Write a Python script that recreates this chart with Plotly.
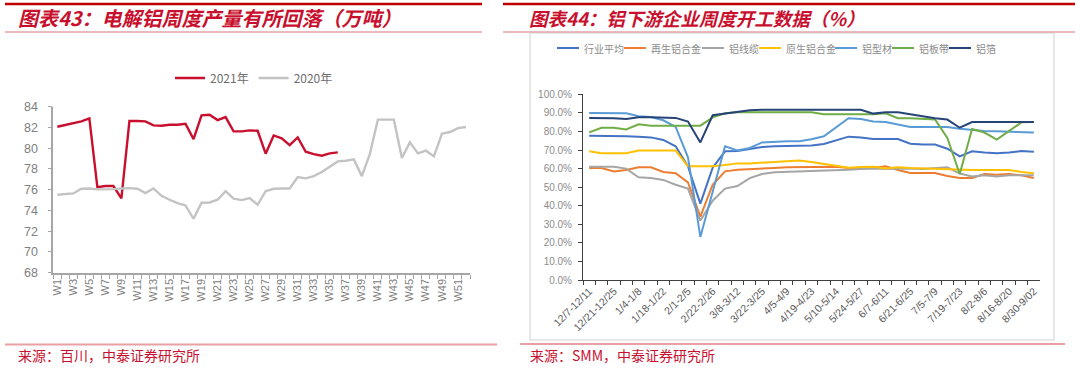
import plotly.graph_objects as go

W, H = 1080, 370

# ---------------- Left chart data ----------------
weeks = ["W%d" % i for i in range(1, 53)]
prod_2021 = [82.07, 82.23, 82.36, 82.59, 82.87, 76.25, 76.35, 76.35, 75.16, 82.62,
             82.62, 82.59, 82.20, 82.17, 82.26, 82.26, 82.36, 80.88, 83.16, 83.23,
             82.71, 83.00, 81.62, 81.62, 81.72, 81.68, 79.47, 81.23, 80.95, 80.30,
             81.04, 79.66, 79.43, 79.27, 79.50, 79.60]
prod_2020 = [75.51, 75.58, 75.64, 76.09, 76.12, 76.03, 76.03, 76.06, 76.12, 76.15,
             76.09, 75.67, 76.12, 75.41, 75.03, 74.71, 74.48, 73.20, 74.74, 74.77,
             75.03, 75.86, 75.13, 75.00, 75.19, 74.55, 75.86, 76.09, 76.12, 76.12,
             77.22, 77.09, 77.31, 77.70, 78.21, 78.73, 78.79, 78.92, 77.31, 79.43,
             82.75, 82.75, 82.75, 79.05, 80.56, 79.50, 79.76, 79.21, 81.40, 81.56,
             81.94, 82.04]
left_yticks = [68, 70, 72, 74, 76, 78, 80, 82, 84]

# ---------------- Right chart data ----------------
periods = ["12/7-12/11", "12/14-12/18", "12/21-12/25", "12/28-1/1", "1/4-1/8",
           "1/11-1/15", "1/18-1/22", "1/25-1/29", "2/1-2/5", "2/8-2/12",
           "2/22-2/26", "3/1-3/5", "3/8-3/12", "3/15-3/19", "3/22-3/25",
           "3/29-4/2", "4/5-4/9", "4/12-4/16", "4/19-4/23", "4/26-4/30",
           "5/10-5/14", "5/17-5/21", "5/24-5/27", "5/31-6/4", "6/7-6/11",
           "6/14-6/18", "6/21-6/25", "6/28-7/2", "7/5-7/9", "7/12-7/16",
           "7/19-7/23", "7/26-7/30", "8/2-8/6", "8/9-8/13", "8/16-8/20",
           "8/23-8/27", "8/30-9/02"]
industry_avg = [77.7, 77.7, 77.6, 77.4, 77.2, 76.8, 75.4, 72.0, 61.2, 41.1,
                60.5, 69.3, 69.5, 70.6, 71.6, 72.0, 72.2, 72.2, 72.4, 73.2,
                75.0, 77.2, 76.7, 75.9, 75.9, 75.9, 73.4, 72.9, 72.9, 70.7,
                66.6, 69.3, 68.6, 68.2, 68.6, 69.5, 69.1]
recycled_alloy = [60.3, 60.3, 58.5, 59.2, 60.7, 60.7, 58.2, 57.5, 52.6, 34.1,
                  51.3, 58.5, 59.4, 59.6, 60.0, 60.3, 60.7, 60.7, 60.7, 60.9,
                  61.0, 60.3, 60.0, 60.3, 61.2, 59.2, 57.6, 57.6, 57.6, 56.0,
                  54.9, 54.9, 57.1, 56.7, 57.1, 56.4, 54.9]
cable = [61.0, 61.0, 61.0, 60.0, 55.3, 54.9, 53.9, 51.3, 49.2, 32.0,
         42.7, 49.2, 50.6, 54.9, 57.1, 58.0, 58.2, 58.2, 58.5, 58.7,
         59.2, 59.4, 59.8, 60.1, 59.8, 60.1, 60.0, 59.8, 60.1, 60.7,
         57.3, 55.7, 56.4, 55.7, 56.4, 56.4, 56.4]
primary_alloy = [69.3, 68.2, 68.2, 68.2, 69.7, 69.7, 69.7, 69.7, 61.2, 61.2,
                 61.2, 61.9, 62.8, 62.8, 63.2, 63.6, 64.3, 64.3, 63.6, 62.7,
                 61.8, 60.5, 60.9, 61.0, 60.0, 60.7, 60.3, 60.0, 59.8, 59.4,
                 59.2, 59.2, 59.2, 59.2, 59.2, 58.2, 57.5]
profile = [89.9, 89.9, 89.9, 89.8, 88.2, 87.8, 86.0, 82.4, 66.1, 23.2,
           47.5, 72.0, 69.7, 71.1, 74.1, 74.5, 74.7, 74.7, 75.8, 77.4,
           82.2, 87.1, 86.7, 85.3, 85.1, 83.8, 82.4, 82.4, 82.4, 82.4,
           81.5, 80.8, 80.3, 80.1, 79.9, 79.7, 79.4]
sheet_strip = [79.5, 82.0, 82.0, 81.1, 83.8, 83.1, 83.1, 83.1, 83.1, 83.1,
               87.6, 89.8, 90.3, 90.3, 90.3, 90.3, 90.3, 90.3, 90.3, 89.2,
               89.2, 89.2, 89.2, 89.2, 89.8, 87.1, 87.1, 86.7, 86.4, 76.5,
               57.1, 81.3, 79.4, 75.6, 80.1, 84.9, 85.1]
foil = [87.3, 87.3, 87.1, 86.7, 87.6, 87.6, 87.4, 87.3, 85.3, 74.1,
        88.7, 89.6, 90.8, 91.4, 91.7, 91.7, 91.7, 91.7, 91.7, 91.7,
        91.7, 91.7, 91.7, 89.6, 90.3, 90.3, 89.2, 88.2, 87.1, 86.4,
        82.0, 85.1, 85.1, 85.1, 85.1, 85.1, 85.1]
right_names = ["行业平均", "再生铝合金", "铝线缆", "原生铝合金", "铝型材", "铝板带", "铝箔"]
right_colors = ["#4472C4", "#ED7D31", "#A5A5A5", "#FFC000", "#5B9BD5", "#70AD47", "#264478"]
right_series = [industry_avg, recycled_alloy, cable, primary_alloy, profile, sheet_strip, foil]
right_yticks = [0, 10, 20, 30, 40, 50, 60, 70, 80, 90, 100]


def px_x(x):
    return x / W


def px_y(y):
    return 1 - y / H


CJK = "Noto Sans CJK SC"
SANS = "Liberation Sans"
RED = "#C8102E"

fig = go.Figure()

fig.add_trace(go.Scatter(x=weeks[:len(prod_2021)], y=prod_2021, mode="lines", name="2021年",
                         line=dict(color=RED, width=2.4), xaxis="x", yaxis="y"))
fig.add_trace(go.Scatter(x=weeks, y=prod_2020, mode="lines", name="2020年",
                         line=dict(color="#C3C3C3", width=2.4), xaxis="x", yaxis="y"))

for name, col, vals in zip(right_names, right_colors, right_series):
    fig.add_trace(go.Scatter(x=periods, y=vals, mode="lines", name=name,
                             line=dict(color=col, width=2), xaxis="x2", yaxis="y2",
                             showlegend=False))

left_ticktext = [w if i % 2 == 0 else "" for i, w in enumerate(weeks)]
right_ticktext = [p if i % 2 == 0 else "" for i, p in enumerate(periods)]

fig.update_layout(
    width=W, height=H,
    margin=dict(l=0, r=0, t=0, b=0, autoexpand=False),
    paper_bgcolor="white", plot_bgcolor="white",
    xaxis=dict(domain=[px_x(53.3), px_x(470)], anchor="y", type="category",
               categoryorder="array", categoryarray=weeks,
               range=[-0.5, len(weeks) - 0.5],
               tickmode="array", tickvals=weeks, ticktext=left_ticktext,
               tickson="boundaries", ticks="outside", ticklen=4, tickwidth=1.2,
               tickcolor="#A6A6A6", showline=True, linecolor="#A6A6A6", linewidth=1.6,
               showgrid=False, zeroline=False, tickangle=-90,
               tickfont=dict(family=SANS, size=11, color="#808080")),
    yaxis=dict(domain=[px_y(272.7), px_y(106.7)], anchor="x", range=[68, 84],
               tickmode="array", tickvals=left_yticks,
               ticks="outside", ticklen=4, tickwidth=1.2, tickcolor="#A6A6A6",
               showline=True, linecolor="#A6A6A6", linewidth=1.6,
               showgrid=False, zeroline=False, ticklabelstandoff=7,
               tickfont=dict(family=SANS, size=12.5, color="#808080")),
    xaxis2=dict(domain=[px_x(583), px_x(1040)], anchor="y2", type="category",
                categoryorder="array", categoryarray=periods,
                range=[-0.5, len(periods) - 0.5],
                tickmode="array", tickvals=periods, ticktext=right_ticktext,
                tickson="boundaries", ticks="outside", ticklen=4, tickwidth=1,
                tickcolor="#404040", showline=True, linecolor="#404040", linewidth=1,
                showgrid=False, zeroline=False, tickangle=-45,
                tickfont=dict(family=SANS, size=10.5, color="#595959")),
    yaxis2=dict(domain=[px_y(280), px_y(94.3)], anchor="x2", range=[0, 100],
                tickmode="array", tickvals=right_yticks,
                ticktext=["%.1f%%" % v for v in right_yticks],
                ticks="outside", ticklen=4, tickwidth=1, tickcolor="#404040",
                showline=True, linecolor="#404040", linewidth=1,
                showgrid=False, zeroline=False, ticklabelstandoff=4,
                tickfont=dict(family=SANS, size=10, color="#8C8C8C")),
    legend=dict(orientation="h", x=px_x(170), y=px_y(78), xanchor="left", yanchor="middle",
                font=dict(family=CJK, size=12, color="#6E6E6E"), bgcolor="rgba(0,0,0,0)",
                itemwidth=30, tracegroupgap=0),
    showlegend=True,
)

shapes = []
# top thick red bars
for x0, x1 in [(5, 482), (503, 1075)]:
    shapes.append(dict(type="line", xref="paper", yref="paper", x0=px_x(x0), x1=px_x(x1),
                       y0=px_y(4), y1=px_y(4), line=dict(color="#C00000", width=2.5)))
# thin lines under titles
for x0, x1 in [(5, 482), (503, 1075)]:
    shapes.append(dict(type="line", xref="paper", yref="paper", x0=px_x(x0), x1=px_x(x1),
                       y0=px_y(32), y1=px_y(32), line=dict(color="#E3A3A8", width=1.3)))
# bottom source lines
shapes.append(dict(type="line", xref="paper", yref="paper", x0=px_x(5), x1=px_x(497),
                   y0=px_y(344.5), y1=px_y(344.5), line=dict(color="#E8A0A5", width=2)))
shapes.append(dict(type="line", xref="paper", yref="paper", x0=px_x(520), x1=px_x(1065),
                   y0=px_y(344), y1=px_y(344), line=dict(color="#E8A0A5", width=2)))
# right chart border
shapes.append(dict(type="rect", xref="paper", yref="paper", x0=px_x(530), x1=px_x(1054),
                   y0=px_y(340), y1=px_y(33), line=dict(color="#E0E0E0", width=1.5),
                   fillcolor="rgba(0,0,0,0)", layer="below"))

annotations = [
    dict(text="<b><i>图表43：电解铝周度产量有所回落（万吨）</i></b>", x=px_x(16), y=px_y(18),
         xref="paper", yref="paper", xanchor="left", yanchor="middle", showarrow=False,
         font=dict(family=CJK, size=20, color=RED)),
    dict(text="<b><i>图表44：铝下游企业周度开工数据（%）</i></b>", x=px_x(527), y=px_y(18),
         xref="paper", yref="paper", xanchor="left", yanchor="middle", showarrow=False,
         font=dict(family=CJK, size=18.5, color=RED)),
    dict(text="来源：百川，中泰证券研究所", x=px_x(16), y=px_y(355),
         xref="paper", yref="paper", xanchor="left", yanchor="middle", showarrow=False,
         font=dict(family=CJK, size=14, color=RED)),
    dict(text="来源：SMM，中泰证券研究所", x=px_x(528), y=px_y(355),
         xref="paper", yref="paper", xanchor="left", yanchor="middle", showarrow=False,
         font=dict(family=CJK, size=14, color=RED)),
]

# right chart legend (line sample + label), positions in pixels
legend_line_x = [557, 624, 702, 759, 835, 892, 949]
for lx, name, col in zip(legend_line_x, right_names, right_colors):
    shapes.append(dict(type="line", xref="paper", yref="paper", x0=px_x(lx), x1=px_x(lx + 22),
                       y0=px_y(48), y1=px_y(48), line=dict(color=col, width=2)))
    annotations.append(dict(text=name, x=px_x(lx + 25), y=px_y(48), xref="paper", yref="paper",
                            xanchor="left", yanchor="middle", showarrow=False,
                            font=dict(family=CJK, size=10, color="#8C8C8C")))

fig.update_layout(shapes=shapes, annotations=annotations)

fig.write_html("out.html", config={"displayModeBar": False},
               post_script="document.body.style.margin='0px';document.body.style.overflow='hidden';")
